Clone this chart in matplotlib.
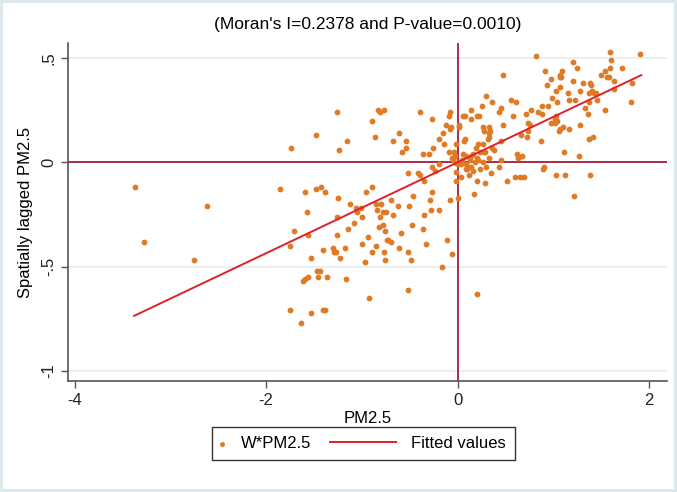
import matplotlib.pyplot as plt
import numpy as np
from matplotlib.legend_handler import HandlerPathCollection, HandlerLine2D

plt.rcParams['font.family'] = ['Liberation Sans', 'DejaVu Sans']

# standardized PM2.5 (z) and its spatial lag (Wz)
pm25 = [
    # upper left
    -1.26, -0.83, -0.81, -0.77, -0.89, -0.39, -0.27, -0.08, -0.09, -0.12, -0.07, -0.08,
    -0.15, -0.19, -0.14, -0.02, -1.48, -0.86, -0.61, -0.54, -0.67, -0.54, -0.58, -1.15,
    -1.74, -1.24, -0.26, -0.09, -0.04, -0.36, -0.30, -0.06, -0.03, -0.05,
    # around origin, x < 0
    -0.02, -0.52, -0.41, -0.39, -0.27, -0.19, -0.23, -0.02, -0.08, -0.06, -0.015,
    # lower left
    -1.85, -1.59, -1.48, -1.43, -1.38, -1.25, -1.12, -1.06, -1.05, -1.01, -0.96, -0.89,
    -0.85, -0.80, -0.84, -0.81, -0.78, -0.75, -0.69, -0.62, -0.67, -0.51, -0.47, -0.35,
    -0.27, -0.29, -0.35, -0.28, -0.19, -1.57, -1.71, -1.56, -1.75, -1.41, -1.30, -1.29,
    -1.27, -1.26, -1.26, -1.14, -1.18, -1.53, -1.23, -1.08, -1.00, -1.00, -0.94, -0.89,
    -0.85, -0.82, -0.78, -0.76, -0.74, -0.73, -0.69, -0.77, -0.76, -0.97, -0.59, -0.61,
    -0.48, -0.52, -0.49, -0.36, -0.33, -0.11, -0.16, -1.47, -1.44, -1.56, -1.59, -1.61,
    -1.46, -1.36, -1.17, -0.52, -0.92, -1.75, -1.53, -1.41, -1.38, -1.64,
    -3.37, -2.62, -3.28, -2.75,
    # upper right
    0.82, 1.59, 1.60, 1.91, 0.48, 0.91, 1.21, 1.25, 1.09, 1.07, 1.08, 1.07,
    1.54, 1.59, 1.72, 1.50, 1.56, 1.58, 1.64, 1.82, 1.81, 1.64, 0.93, 0.98,
    1.21, 1.31, 1.38, 1.39, 1.07, 1.03, 1.15, 1.28, 1.41, 1.43, 1.45, 1.37,
    0.30, 0.99, 1.04, 1.17, 1.23, 1.37, 1.46, 0.36, 0.56, 0.61, 0.26, 0.95,
    0.88, 0.14, 0.45, 0.43, 0.84, 0.88, 0.77, 0.72, 0.58, 1.36, 1.33, 1.54,
    0.06, 0.08, 0.14, 0.20, 0.22, 1.03, 1.02, 1.04, 1.02, 0.98, 0.74, 0.76,
    1.10, 1.17, 1.28, 1.07, 1.06, 0.74, 0.73, 0.66, 0.48, 0.27, 0.33, 0.28,
    0.34, 0.33, 0.33, 0.32, 0.02, 0.02, 0.08, 0.07, 0.21, 0.19, 0.27, 0.36,
    0.38, 0.45, 0.87, 1.11, 1.37, 1.42, 1.27, 0.23, 0.28, 0.29, 0.16, 0.14,
    0.06, 0.09, 0.33, 0.45, 0.62, 0.63, 0.67, 0.27, 0.05, 0.02, 0.09, 0.13,
    0.18, 0.21, 0.20,
    # lower right
    0.11, 0.14, 0.09, 0.30, 0.43, 0.24, 0.35, 0.90, 0.89, 0.12, 0.60, 0.65,
    0.69, 1.03, 1.12, 1.38, 0.20, 0.29, 0.17, 0.01, 0.52, 1.22, 0.20, 0.10,
    0.04, 0.16, 0.04, 0.00,
]
w_pm25 = [
    0.24, 0.25, 0.24, 0.25, 0.20, 0.24, 0.21, 0.24, 0.22, 0.18, 0.17, 0.16,
    0.14, 0.11, 0.09, 0.09, 0.13, 0.12, 0.14, 0.10, 0.10, 0.07, 0.05, 0.10,
    0.07, 0.06, 0.07, 0.05, 0.05, 0.04, 0.04, 0.02, 0.03, 0.01,
    -0.005, -0.05, -0.05, -0.06, -0.02, -0.01, -0.04, -0.09, -0.18, -0.44, -0.047,
    -0.13, -0.14, -0.13, -0.12, -0.14, -0.17, -0.20, -0.22, -0.24, -0.22, -0.14, -0.12,
    -0.20, -0.20, -0.23, -0.26, -0.24, -0.24, -0.18, -0.21, -0.25, -0.21, -0.16, -0.09,
    -0.14, -0.18, -0.25, -0.23, -0.23, -0.24, -0.33, -0.35, -0.40, -0.42, -0.41, -0.43,
    -0.43, -0.26, -0.35, -0.32, -0.41, -0.46, -0.46, -0.29, -0.26, -0.39, -0.36, -0.43,
    -0.40, -0.31, -0.30, -0.33, -0.37, -0.37, -0.38, -0.43, -0.47, -0.48, -0.34, -0.41,
    -0.30, -0.43, -0.47, -0.32, -0.39, -0.37, -0.50, -0.52, -0.52, -0.55, -0.56, -0.57,
    -0.55, -0.55, -0.56, -0.61, -0.65, -0.71, -0.72, -0.71, -0.71, -0.77,
    -0.12, -0.21, -0.38, -0.47,
    0.51, 0.53, 0.49, 0.52, 0.42, 0.44, 0.48, 0.45, 0.44, 0.42, 0.41, 0.41,
    0.44, 0.45, 0.45, 0.42, 0.41, 0.41, 0.39, 0.38, 0.29, 0.35, 0.37, 0.40,
    0.39, 0.38, 0.38, 0.37, 0.36, 0.34, 0.33, 0.34, 0.34, 0.33, 0.33, 0.33,
    0.32, 0.31, 0.29, 0.30, 0.30, 0.29, 0.30, 0.29, 0.30, 0.29, 0.27, 0.27,
    0.27, 0.25, 0.26, 0.24, 0.24, 0.23, 0.25, 0.23, 0.22, 0.23, 0.26, 0.25,
    0.22, 0.22, 0.21, 0.22, 0.22, 0.22, 0.21, 0.20, 0.19, 0.19, 0.19, 0.18,
    0.17, 0.16, 0.18, 0.16, 0.15, 0.15, 0.12, 0.13, 0.18, 0.17, 0.17, 0.15,
    0.15, 0.14, 0.12, 0.11, 0.18, 0.17, 0.11, 0.10, 0.09, 0.07, 0.09, 0.07,
    0.06, 0.10, 0.10, 0.05, 0.11, 0.12, 0.03, 0.05, 0.05, 0.05, 0.04, 0.03,
    0.04, 0.03, 0.02, 0.01, 0.04, 0.02, 0.03, 0.00, 0.01, 0.00, -0.01, 0.01,
    0.00, 0.01, 0.02,
    -0.02, -0.02, -0.03, -0.02, -0.02, -0.03, -0.05, -0.02, -0.03, -0.06, -0.07, -0.07,
    -0.07, -0.06, -0.06, -0.06, -0.09, -0.10, -0.15, -0.17, -0.09, -0.16, -0.63, -0.03,
    -0.07, -0.04, -0.01, -0.01,
]

# fitted line end points as drawn in the chart
fit_x = [-3.38, 1.92]
fit_y = [-0.736, 0.418]

title = "(Moran's I=0.2378 and P-value=0.0010)"


# stata-like legend keys: small dot at the left, long line reaching back into the gap
class DotKey(HandlerPathCollection):
    def get_xdata(self, legend, xdescent, ydescent, width, height, fontsize):
        x = [-xdescent + 0.1 * width]
        return x, x


class LongLineKey(HandlerLine2D):
    def get_xdata(self, legend, xdescent, ydescent, width, height, fontsize):
        x = [-xdescent + width - 4.5 * fontsize, -xdescent + width - 0.5 * fontsize]
        return x, [0.5 * (x[0] + x[1])]


fig = plt.figure(figsize=(6.77, 4.92), dpi=100)
fig.patch.set_facecolor('white')
fig.patch.set_edgecolor('#dde8ec')
fig.patch.set_linewidth(4)
ax = fig.add_axes([0.1004, 0.2256, 0.885, 0.687])

ax.set_xlim(-4.07, 2.19)
ax.set_ylim(-1.048, 0.572)

ax.set_yticks([0.5, 0, -0.5, -1])
ax.set_yticklabels(['.5', '0', '-.5', '-1'], rotation=90, va='center')
ax.set_xticks([-4, -2, 0, 2])
ax.set_xticklabels(['-4', '-2', '0', '2'])
ax.yaxis.grid(True, color='#e6eef0', linewidth=1.2)
ax.set_axisbelow(True)

for s in ['top', 'right']:
    ax.spines[s].set_visible(False)
for s in ['left', 'bottom']:
    ax.spines[s].set_color('#555555')
    ax.spines[s].set_linewidth(1.2)
ax.tick_params(axis='both', direction='out', length=5, width=1, color='#555555',
               labelsize=12, labelcolor='#222222')

pts = ax.scatter(pm25, w_pm25, s=10, color='#e07a25', zorder=3, label='W*PM2.5')
fl, = ax.plot(fit_x, fit_y, color='#e0202a', linewidth=1.4, zorder=4, label='Fitted values')
ax.axhline(0, color='#a51c3c', linewidth=1.3, zorder=2)
ax.axvline(0, color='#a51c3c', linewidth=1.3, zorder=2)

ax.set_title(title, fontsize=12.5, pad=10)
ax.set_xlabel('PM2.5', fontsize=12, labelpad=2)
ax.set_ylabel('Spatially lagged PM2.5', fontsize=12, labelpad=6)

leg = fig.legend([pts, fl], ['W*PM2.5', 'Fitted values'],
                 loc='upper center', bbox_to_anchor=(0.537, 0.132), ncol=2,
                 borderaxespad=0, borderpad=0.55,
                 frameon=True, fancybox=False, edgecolor='black', fontsize=12,
                 handlelength=0.8, handletextpad=0.4, columnspacing=4.8,
                 markerscale=0.8,
                 handler_map={pts: DotKey(numpoints=1), fl: LongLineKey()})
leg.get_frame().set_linewidth(1)

fig.savefig('out.png', dpi=100, edgecolor=fig.get_edgecolor())
